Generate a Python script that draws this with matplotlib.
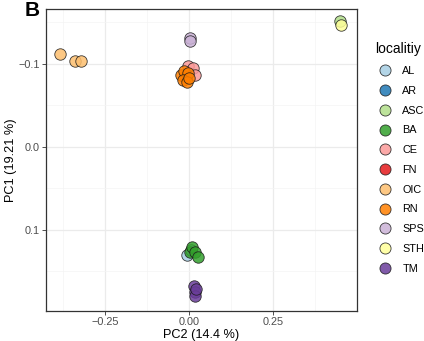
import matplotlib
matplotlib.use("Agg")
import matplotlib.pyplot as plt
from matplotlib.lines import Line2D

plt.rcParams['font.family'] = ['Liberation Sans', 'DejaVu Sans']

# locality groups, PC2 (x) and PC1 (y) scores
localities = ["AL", "AR", "ASC", "BA", "CE", "FN", "OIC", "RN", "SPS", "STH", "TM"]
colors = ["#a6cee3", "#1f78b4", "#b2df8a", "#33a02c", "#fb9a99", "#e31a1c",
          "#fdbf6f", "#ff7f00", "#cab2d6", "#ffff99", "#6a3d9a"]

pc2 = {
    "AL": [-0.008, 0.004],
    "AR": [-0.012],
    "ASC": [0.449],
    "BA": [0.002, 0.007, 0.017, 0.027],
    "CE": [-0.003, 0.012, 0.017],
    "FN": [-0.010],
    "OIC": [-0.386, -0.340, -0.322],
    "RN": [-0.026, -0.015, -0.004, -0.020, -0.008, 0.000],
    "SPS": [0.002, 0.002],
    "STH": [0.452],
    "TM": [0.015, 0.018, 0.016, 0.020],
}
pc1 = {
    "AL": [0.131, 0.125],
    "AR": [-0.085],
    "ASC": [-0.151],
    "BA": [0.127, 0.121, 0.127, 0.133],
    "CE": [-0.097, -0.095, -0.087],
    "FN": [-0.084],
    "OIC": [-0.112, -0.103, -0.103],
    "RN": [-0.087, -0.091, -0.089, -0.080, -0.078, -0.083],
    "SPS": [-0.131, -0.128],
    "STH": [-0.147],
    "TM": [0.168, 0.175, 0.180, 0.172],
}

fig = plt.figure(figsize=(4.24, 3.41), dpi=100)
ax = fig.add_axes([46 / 424, 1 - 311 / 341, 311 / 424, 302 / 341])

for loc, col in zip(localities, colors):
    ax.scatter(pc2[loc], pc1[loc], s=68, c=col, alpha=0.85,
               edgecolors="#1a1a1a", linewidths=0.6, zorder=3)

ax.set_xlim(-0.4265, 0.499)
ax.set_ylim(0.198, -0.166)
ax.set_xticks([-0.25, 0.0, 0.25])
ax.set_xticklabels(["\u22120.25", "0.00", "0.25"])
ax.set_yticks([-0.1, 0.0, 0.1])
ax.set_yticklabels(["\u22120.1", "0.0", "0.1"])
ax.set_xticks([-0.375, -0.125, 0.125, 0.375], minor=True)
ax.set_yticks([-0.15, -0.05, 0.05, 0.15], minor=True)
ax.grid(which="major", color="#ebebeb", linewidth=0.9, zorder=0)
ax.grid(which="minor", color="#f4f4f4", linewidth=0.5, zorder=0)
ax.set_axisbelow(True)
ax.tick_params(which="major", length=3, width=0.6, color="#333333",
               labelsize=7.8, labelcolor="#4d4d4d", pad=1.5)
ax.tick_params(which="minor", length=0)
for sp in ax.spines.values():
    sp.set_color("#333333")
    sp.set_linewidth(0.9)

ax.set_xlabel("PC2 (14.4 %)", fontsize=9.2, labelpad=1)
ax.set_ylabel("PC1 (19.21 %)", fontsize=9.2, labelpad=1)

handles = [Line2D([], [], marker="o", linestyle="", markersize=8,
                  markerfacecolor=c, markeredgecolor="#1a1a1a",
                  markeredgewidth=0.6, alpha=0.85) for c in colors]
leg = fig.legend(handles, localities, title="localitiy", loc="upper left",
                 bbox_to_anchor=(371 / 424, 1 - 38 / 341), frameon=False,
                 fontsize=7.8, title_fontsize=10, labelspacing=0.9,
                 handletextpad=0.7, borderaxespad=0, handlelength=1.8)
leg._legend_box.align = "left"

fig.text(25 / 424, 1 - 1 / 341, "B", fontsize=15, fontweight="bold",
         va="top", ha="left")

fig.savefig("out.png", dpi=100)
